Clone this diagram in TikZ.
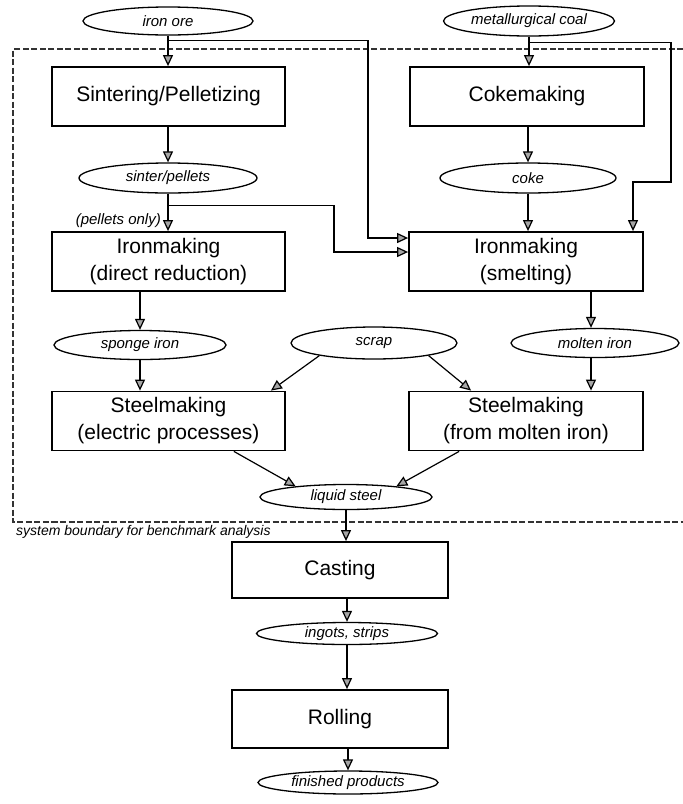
\documentclass[tikz,border=0pt]{standalone}
\usepackage{fontspec}
\setmainfont{Liberation Sans}
\usetikzlibrary{arrows.meta,shapes.geometric,calc}
\begin{document}
\begin{tikzpicture}[x=1pt,y=-1pt,
  proc/.style={draw, line width=1.8pt, minimum width=233pt, minimum height=59pt, inner sep=0pt, align=center, font=\fontsize{21}{27}\selectfont},
  flow/.style={draw, ellipse, line width=1.3pt, minimum width=172pt, minimum height=29pt, inner sep=0pt, font=\fontsize{15}{18}\selectfont\itshape},
  arr/.style={line width=1.2pt, -{Triangle[length=11pt,width=10pt,fill=gray!70]}},
  bound/.style={line width=2pt, black!80, dash pattern=on 6pt off 2.5pt},
  lbl/.style={inner sep=0pt, font=\fontsize{15}{18}\selectfont\itshape}]
\useasboundingbox (0,0) rectangle (683,804);
% system boundary
\coordinate (bTL) at (13,49);
\coordinate (bTR) at (683,49);
\coordinate (bBL) at (13,522);
\coordinate (bBR) at (683,522);
\draw[bound] (bTR) -- (bTL) -- (bBL) -- (bBR);
\node[anchor=west, inner sep=0pt, font=\fontsize{14}{16}\selectfont\itshape] (sbl) at (16,532) {system boundary for benchmark analysis};
% nodes
\node[flow, minimum width=170pt, minimum height=28pt] (ore) at (168,21) {iron ore};
\node[flow, minimum width=171pt, minimum height=30pt] (coal) at (529,21) {metallurgical coal};
\node[proc] (sint) at (168.5,96.5) {Sintering/Pelletizing};
\node[proc, minimum width=234pt] (coke) at (527,96.5) {Cokemaking};
\node[flow, minimum width=178pt, minimum height=30pt] (sp) at (168,178) {sinter/pellets};
\node[flow, minimum width=176pt, minimum height=30pt] (ck) at (528,178) {coke};
\node[proc] (dr) at (168.5,261.5) {Ironmaking\\(direct reduction)};
\node[proc, minimum width=234pt] (sm) at (526,261.5) {Ironmaking\\(smelting)};
\node[flow] (sponge) at (140,345) {sponge iron};
\node[flow, minimum width=166pt, minimum height=32pt] (scrap) at (374,343) {scrap};
\node[flow, minimum width=168pt] (mi) at (595,343) {molten iron};
\node[proc] (el) at (168.5,421) {Steelmaking\\(electric processes)};
\node[proc, minimum width=234pt] (mo) at (526,421) {Steelmaking\\(from molten iron)};
\node[flow, minimum height=25pt] (ls) at (346,497) {liquid steel};
\node[proc, minimum width=216pt, minimum height=56pt] (cast) at (340,570) {Casting};
\node[flow, minimum width=181pt, minimum height=22pt] (ing) at (347,633.5) {ingots, strips};
\node[proc, minimum width=216pt, minimum height=58pt] (roll) at (340,719) {Rolling};
\node[flow, minimum width=180pt, minimum height=23pt] (fin) at (348,782.5) {finished products};
\node[lbl, anchor=east] (po) at (161,221) {(pellets only)};
% helper coordinates
\coordinate (ja) at (368,238);
\coordinate (jb) at (671,182);
\coordinate (jc) at (633,182);
\coordinate (jd) at (334,252);
\coordinate (m1) at (591,0);
% connectors
\draw[arr] (ore.south) -- (ore.south |- sint.north);
\draw[arr] (ore.south) ++(0,5) -| (ja) -- (ja -| sm.west);
\draw[arr] (coal.south) -- (coal.south |- coke.north);
\draw[arr] (coal.south) ++(0,6) -| (jb) -- (jc) -- (jc |- sm.north);
\draw[arr] (sp.north |- sint.south) -- (sp.north);
\draw[arr] (ck.north |- coke.south) -- (ck.north);
\draw[arr] (sp.south) -- (sp.south |- dr.north);
\draw[arr] (sp.south) ++(0,12) -| (jd) -- (jd -| sm.west);
\draw[arr] (ck.south) -- (ck.south |- sm.north);
\draw[arr] (sponge.north |- dr.south) -- (sponge.north);
\draw[arr] (sponge.south) -- (sponge.south |- el.north);
\draw[arr] (sm.south -| m1) -- (mi.north -| m1);
\draw[arr] (mi.south -| m1) -- (mo.north -| m1);
\draw[arr] (scrap.193) -- ($(el.north east)+(-15,0)$);
\draw[arr] (scrap.347) -- ($(mo.north west)+(63,0)$);
\draw[arr] ($(el.south east)+(-52,0)$) -- (ls.168);
\draw[arr] ($(mo.south west)+(51,0)$) -- (ls.12);
\draw[arr] (ls.south) -- (ls.south |- cast.north);
\draw[arr] (ing.north |- cast.south) -- (ing.north);
\draw[arr] (ing.south) -- (ing.south |- roll.north);
\draw[arr] (fin.north |- roll.south) -- (fin.north);
\end{tikzpicture}
\end{document}
